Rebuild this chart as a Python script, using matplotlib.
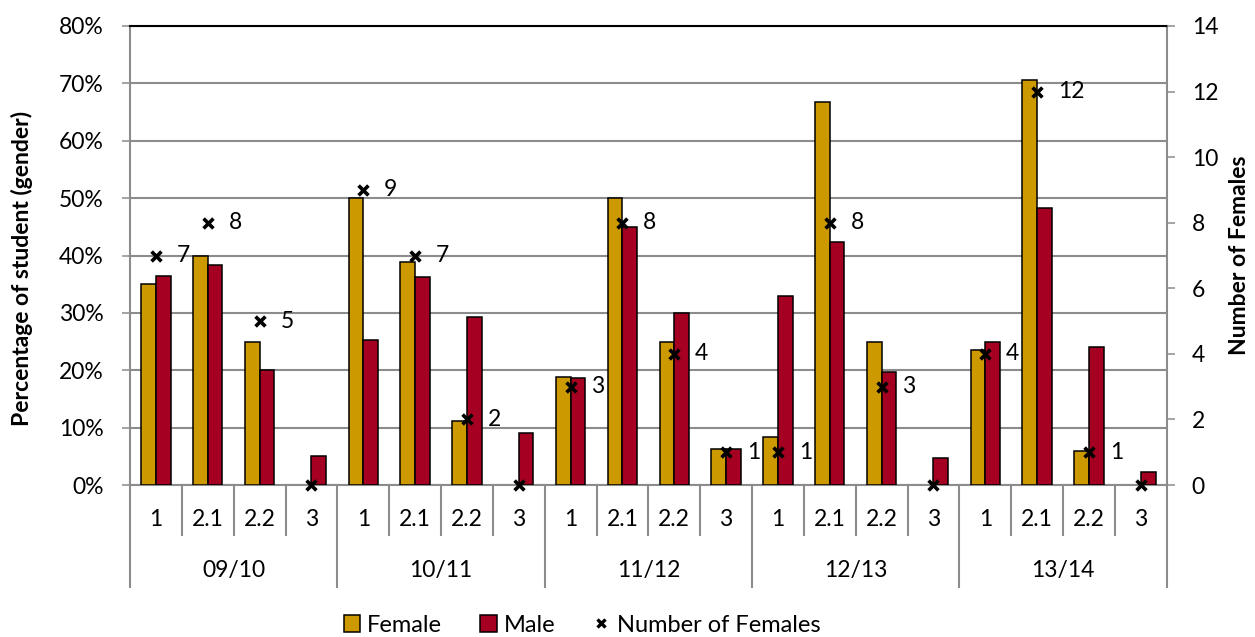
import numpy as np
import matplotlib
matplotlib.use("Agg")
import matplotlib.pyplot as plt
from matplotlib.ticker import FuncFormatter, MultipleLocator
from matplotlib.patches import Patch
from matplotlib.lines import Line2D

plt.rcParams['font.family'] = ['Lato', 'DejaVu Sans']

# academic years and levels within each year
years = ['09/10', '10/11', '11/12', '12/13', '13/14']
levels = ['1', '2.1', '2.2', '3']

# percentage of students by gender, one value per (year, level)
female_pct = [35.0, 40.0, 25.0, 0.0,
              50.0, 38.9, 11.1, 0.0,
              18.75, 50.0, 25.0, 6.25,
              8.3, 66.7, 25.0, 0.0,
              23.5, 70.6, 5.9, 0.0]
male_pct = [36.4, 38.3, 20.1, 5.0,
            25.2, 36.3, 29.2, 9.0,
            18.7, 44.9, 29.9, 6.2,
            33.0, 42.4, 19.7, 4.7,
            24.9, 48.2, 24.1, 2.3]
female_count = [7, 8, 5, 0,
                9, 7, 2, 0,
                3, 8, 4, 1,
                1, 8, 3, 0,
                4, 12, 1, 0]

FEMALE_COLOR = '#CC9900'
MALE_COLOR = '#A50021'
GRID_COLOR = '#8C8C8C'
FS = 16.5

W, H = 1255, 637
fig = plt.figure(figsize=(W / 100, H / 100), dpi=100)
left, right, top, bottom = 130, 1166.7, 26, 485
ax = fig.add_axes([left / W, 1 - bottom / H, (right - left) / W, (bottom - top) / H])

n = len(female_pct)
x = np.arange(n) + 0.5
bw = 0.284

fem = np.array(female_pct) / 100
mal = np.array(male_pct) / 100
# empty bars get no outline
ax.bar(x - bw / 2, fem, bw, color=FEMALE_COLOR, edgecolor='black',
       linewidth=np.where(fem > 0, 1.1, 0), zorder=3)
ax.bar(x + bw / 2, mal, bw, color=MALE_COLOR, edgecolor='black',
       linewidth=np.where(mal > 0, 1.1, 0), zorder=3)

ax.set_xlim(0, n)
ax.set_ylim(0, 0.8)
ax.yaxis.set_major_locator(MultipleLocator(0.1))
ax.yaxis.set_major_formatter(FuncFormatter(lambda v, p: f'{v * 100:.0f}%'))
ax.grid(axis='y', color=GRID_COLOR, linewidth=1.5, zorder=0)
ax.set_axisbelow(True)
ax.set_xticks([])
ax.tick_params(axis='y', direction='out', length=6, width=1.1,
               color=GRID_COLOR, labelsize=FS, pad=13)

for side in ['left', 'right', 'bottom']:
    ax.spines[side].set_color(GRID_COLOR)
    ax.spines[side].set_linewidth(1.5)
ax.spines['top'].set_color('black')
ax.spines['top'].set_linewidth(1.5)

# secondary axis with the number of females
ax2 = ax.twinx()
ax2.set_ylim(0, 14)
ax2.yaxis.set_major_locator(MultipleLocator(2))
ax2.tick_params(axis='y', direction='out', length=6, width=1.1,
                color=GRID_COLOR, labelsize=FS, pad=12)
for side in ['left', 'right', 'bottom', 'top']:
    ax2.spines[side].set_visible(False)
ax2.scatter(x, female_count, marker='x', s=50, color='black',
            linewidths=2.6, zorder=5, clip_on=False)
for xi, c in zip(x, female_count):
    if c == 0:
        continue
    ax2.annotate(str(c), (xi, c), xytext=(15, 0), textcoords='offset points',
                 ha='left', va='center', fontsize=FS)

# two-level category axis below the plot
trans = ax.get_xaxis_transform()
inner_y = -(535 - bottom) / (bottom - top)
outer_y = -(587 - bottom) / (bottom - top)
for k in range(n + 1):
    y_end = outer_y if k % len(levels) == 0 else inner_y
    ax.plot([k, k], [0, y_end], transform=trans, color=GRID_COLOR,
            linewidth=1.5, clip_on=False)
for k in range(n):
    ax.text(k + 0.5, -(519 - bottom) / (bottom - top), levels[k % len(levels)],
            transform=trans, ha='center', va='center', fontsize=FS)
for g, yr in enumerate(years):
    ax.text(g * len(levels) + len(levels) / 2, -(570 - bottom) / (bottom - top), yr,
            transform=trans, ha='center', va='center', fontsize=FS)

fig.text(22 / W, 1 - 268 / H, 'Percentage of student (gender)', rotation=90,
         ha='center', va='center', fontsize=FS, fontweight='bold')
fig.text(1240 / W, 1 - 255 / H, 'Number of Females', rotation=90,
         ha='center', va='center', fontsize=FS, fontweight='bold')

handles = [
    Patch(facecolor=FEMALE_COLOR, edgecolor='black', linewidth=1.1, label='Female'),
    Patch(facecolor=MALE_COLOR, edgecolor='black', linewidth=1.1, label='Male'),
    Line2D([], [], marker='x', color='black', linestyle='none', markersize=6,
           markeredgewidth=2.4, label='Number of Females'),
]
fig.legend(handles=handles, loc='center', bbox_to_anchor=(582 / W, 1 - 625 / H),
           ncol=3, frameon=False, fontsize=17, handlelength=0.7, handleheight=0.7,
           handletextpad=0.3, columnspacing=1.6)

fig.savefig('out.png', dpi=100)
